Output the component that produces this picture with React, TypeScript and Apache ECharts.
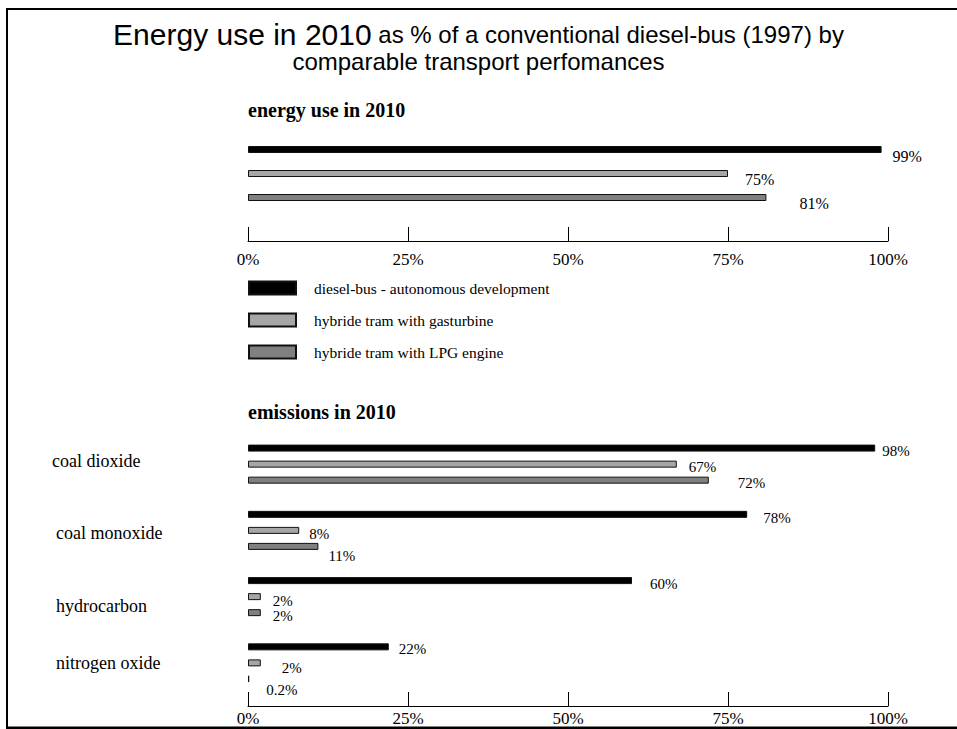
import React, { useEffect, useRef } from "react";
import * as echarts from "echarts";

// ---------- data ----------
const seriesNames = [
  "diesel-bus - autonomous development",
  "hybride tram with gasturbine",
  "hybride tram with LPG engine",
];
const energyCategory = ["energy use in 2010"];
const energyValues = [99, 75, 81];

const emissionCategories = ["coal dioxide", "coal monoxide", "hydrocarbon", "nitrogen oxide"];
const dieselEmissions = [98, 78, 60, 22];
const gasturbineEmissions = [67, 8, 2, 2];
const lpgEmissions = [72, 11, 2, 0.2];
const emissionValues = [dieselEmissions, gasturbineEmissions, lpgEmissions];

const axisMin = 0;
const axisMax = 100;
const axisStep = 25;

// ---------- styles ----------
const barColors = ["#000000", "#a6a6a6", "#808080"];
const serif = "Liberation Serif";
const sans = "Liberation Sans";

// label nudges [dx, dy] (style only)
const energyLabelShift = [
  [1, 7],
  [7, 6],
  [23, 6],
];
const emissionLabelShift = [
  [[-3, 3], [6, 4], [8, 3], [0, 2]],
  [[2, 3], [0, 4], [2, 4], [11, 5]],
  [[19, 3], [0, 10], [2, 3], [7, 11]],
];
// category label nudges [dy, dx] (style only)
const categoryLabelShift = [
  [-3, 0],
  [3, 4],
  [9, 4],
  [0, 4],
];

const pct = (p: any) => `${p.value}%`;

function buildOption(): any {
  const valueAxis = (gridIndex: number, offset: number, margin: number) => ({
    type: "value",
    gridIndex,
    min: axisMin,
    max: axisMax,
    interval: axisStep,
    offset,
    axisLine: { show: true, lineStyle: { color: "#000", width: 1 } },
    axisTick: { show: true, inside: true, length: 14, lineStyle: { color: "#000", width: 1 } },
    splitLine: { show: false },
    axisLabel: {
      formatter: "{value}%",
      margin,
      color: "#000",
      fontFamily: serif,
      fontSize: 17,
      showMinLabel: true,
      showMaxLabel: true,
    },
  });

  const labelBase = (size: number) => ({
    show: true,
    position: "right",
    distance: 10,
    color: "#000",
    fontFamily: serif,
    fontSize: size,
    formatter: pct,
  });

  const energySeries = seriesNames.map((name, i) => ({
    type: "bar",
    name,
    xAxisIndex: 0,
    yAxisIndex: 0,
    barWidth: 7,
    barGap: "243%",
    itemStyle: { color: barColors[i], borderColor: "#111", borderWidth: 1 },
    label: labelBase(16),
    data: [{ value: energyValues[i], label: { offset: energyLabelShift[i] } }],
  }));

  const emissionSeries = seriesNames.map((name, i) => ({
    type: "bar",
    name,
    xAxisIndex: 1,
    yAxisIndex: 1,
    barWidth: 7,
    barGap: "129%",
    itemStyle: { color: barColors[i], borderColor: "#111", borderWidth: 1 },
    label: labelBase(15),
    data: emissionValues[i].map((v, j) => ({
      value: v,
      label: { offset: emissionLabelShift[i][j] },
    })),
  }));

  const categoryRich: any = {};
  categoryLabelShift.forEach(([dy, dx], j) => {
    categoryRich[`c${j}`] = {
      fontFamily: serif,
      fontSize: 18,
      color: "#000",
      align: "left",
      padding: [dy > 0 ? 2 * dy : 0, 0, dy < 0 ? -2 * dy : 0, dx],
    };
  });

  return {
    animation: false,
    backgroundColor: "#ffffff",
    title: [
      {
        text:
          "{big|Energy use in 2010}{small| as % of a conventional diesel-bus (1997) by}\n{small2|comparable transport perfomances}",
        left: "center",
        top: 19,
        padding: 0,
        textStyle: {
          fontWeight: "normal",
          rich: {
            big: { fontFamily: sans, fontWeight: "normal", fontSize: 30, color: "#000", lineHeight: 30, align: "center" },
            small: { fontFamily: sans, fontWeight: "normal", fontSize: 24, color: "#000", lineHeight: 30, align: "center" },
            small2: { fontFamily: sans, fontWeight: "normal", fontSize: 24, color: "#000", lineHeight: 24, align: "center" },
          },
        },
      },
      {
        text: "energy use in 2010",
        left: 248,
        top: 100,
        padding: 0,
        textStyle: { fontFamily: serif, fontWeight: "bold", fontSize: 20, color: "#000" },
      },
      {
        text: "emissions in 2010",
        left: 248,
        top: 402,
        padding: 0,
        textStyle: { fontFamily: serif, fontWeight: "bold", fontSize: 20, color: "#000" },
      },
    ],
    legend: {
      orient: "vertical",
      left: 248,
      top: 280,
      padding: 0,
      itemWidth: 47,
      itemHeight: 13,
      itemGap: 16,
      icon: "rect",
      selectedMode: false,
      data: seriesNames,
      textStyle: { fontFamily: serif, fontSize: 15.5, color: "#000", padding: [0, 0, 0, 13] },
    },
    grid: [
      { left: 248, width: 640, top: 106, height: 135, containLabel: false, outerBoundsMode: "none" },
      { left: 248, width: 640, top: 431, height: 265, containLabel: false, outerBoundsMode: "none" },
    ],
    xAxis: [valueAxis(0, 0, 10), valueAxis(1, 10, 4)],
    yAxis: [
      {
        type: "category",
        gridIndex: 0,
        data: energyCategory,
        inverse: true,
        show: false,
      },
      {
        type: "category",
        gridIndex: 1,
        data: emissionCategories,
        inverse: true,
        axisLine: { show: false },
        axisTick: { show: false },
        axisLabel: {
          align: "left",
          margin: 196,
          color: "#000",
          fontFamily: serif,
          fontSize: 18,
          formatter: (v: string, idx: number) => `{c${idx}|${v}}`,
          rich: categoryRich,
        },
      },
    ],
    series: [...energySeries, ...emissionSeries],
    graphic: [
      { type: "rect", z: 100, shape: { x: 6, y: 8, width: 951, height: 2 }, style: { fill: "#000" } },
      { type: "rect", z: 100, shape: { x: 6, y: 8, width: 2, height: 721 }, style: { fill: "#000" } },
      { type: "rect", z: 100, shape: { x: 6, y: 726.5, width: 951, height: 2.5 }, style: { fill: "#000" } },
    ],
  };
}

export default function App() {
  const ref = useRef<HTMLDivElement>(null);
  useEffect(() => {
    if (!ref.current) return;
    const chart = echarts.init(ref.current, undefined, { renderer: "svg" });
    chart.setOption(buildOption());
    return () => chart.dispose();
  }, []);
  return (
    <div
      ref={ref}
      style={{ position: "fixed", left: 0, top: 0, width: 957, height: 729, background: "#fff" }}
    />
  );
}
